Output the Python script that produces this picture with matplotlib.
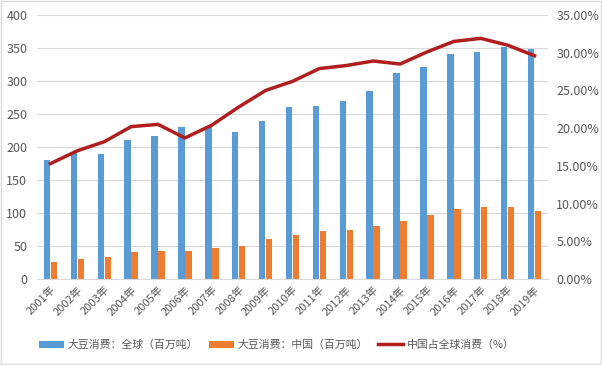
import numpy as np
import matplotlib
matplotlib.use('Agg')
import matplotlib.pyplot as plt
from matplotlib.ticker import FuncFormatter

plt.rcParams['font.family'] = ['Noto Sans CJK SC', 'DejaVu Sans']

# data
years = ['2001年', '2002年', '2003年', '2004年', '2005年', '2006年', '2007年',
         '2008年', '2009年', '2010年', '2011年', '2012年', '2013年', '2014年',
         '2015年', '2016年', '2017年', '2018年', '2019年']
world = [181, 192, 190, 210, 216, 231, 231, 222, 240, 260,
         262, 269, 285, 312, 321, 341, 344, 352, 349]
china = [26, 31, 34, 41.5, 43, 43, 46.5, 50.6, 60, 67,
         72, 75, 81, 87.6, 96.7, 106, 109, 109, 103]
share = [15.3, 17.0, 18.2, 20.2, 20.5, 18.7, 20.4, 22.8, 25.0, 26.2,
         27.9, 28.3, 28.9, 28.5, 30.1, 31.5, 31.9, 31.0, 29.6]

lbl_world = '大豆消费：全球（百万吨）'
lbl_china = '大豆消费：中国（百万吨）'
lbl_share = '中国占全球消费（%）'

blue = '#5B9BD5'
orange = '#ED7D31'
red = '#B01E1E'
txt = '#595959'

fig = plt.figure(figsize=(6.02, 3.65), dpi=100)
ax = fig.add_axes([37 / 602, 1 - 279 / 365, 511 / 602, 264 / 365])
x = np.arange(len(years))
w = 0.24
b1 = ax.bar(x - 0.13, world, width=w, color=blue, label=lbl_world, zorder=2)
b2 = ax.bar(x + 0.13, china, width=w, color=orange, label=lbl_china, zorder=2)
ax.set_ylim(0, 400)
ax.set_yticks(np.arange(0, 401, 50))
ax.set_xlim(-0.5, len(years) - 0.5)
ax.set_xticks(x)
ax.set_xticklabels(years, rotation=45, ha='right', rotation_mode='anchor')
ax.grid(axis='y', color='#D9D9D9', linewidth=0.8, zorder=0)
for s in ['top', 'right', 'left']:
    ax.spines[s].set_visible(False)
ax.spines['bottom'].set_color('#D9D9D9')
ax.tick_params(axis='both', length=0, colors=txt, labelsize=9)
ax.tick_params(axis='x', labelsize=8, pad=4)
ax.tick_params(axis='y', pad=7)

ax2 = ax.twinx()
l1, = ax2.plot(x, share, color=red, linewidth=2.5, label=lbl_share, zorder=3)
ax2.set_ylim(0, 35)
ax2.set_yticks(np.arange(0, 36, 5))
ax2.yaxis.set_major_formatter(FuncFormatter(lambda v, p: '{:.2f}%'.format(v)))
for s in ax2.spines.values():
    s.set_visible(False)
ax2.tick_params(axis='y', length=0, colors=txt, labelsize=9, pad=6)

fig.legend(handles=[b1, b2, l1], loc='center', bbox_to_anchor=(0.46, 0.055),
           ncol=3, frameon=False, fontsize=7.8, labelcolor=txt,
           handlelength=2.3, handleheight=0.6, columnspacing=1.0, handletextpad=0.3)

fig.patches.append(plt.Rectangle((0.002, 0.003), 0.996, 0.994, transform=fig.transFigure,
                                 fill=False, edgecolor='#D9D9D9', linewidth=1))

fig.savefig('out.png', dpi=100)
